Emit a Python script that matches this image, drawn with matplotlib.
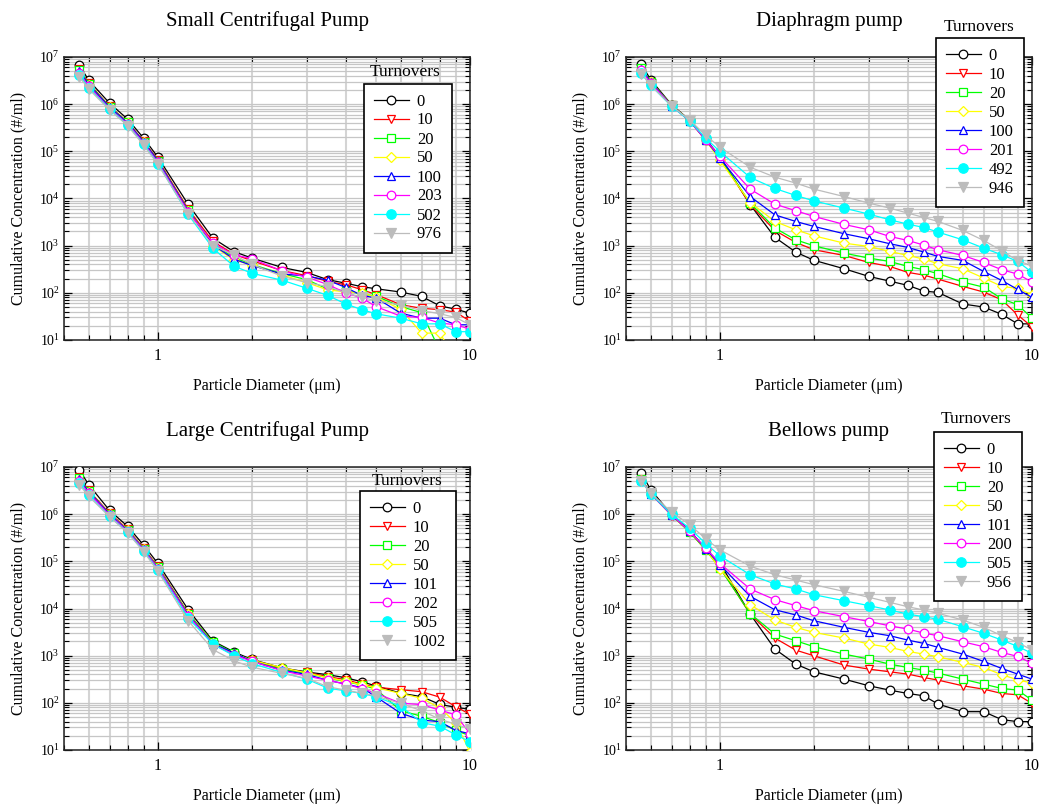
import matplotlib
matplotlib.use('Agg')
import matplotlib.pyplot as plt
from matplotlib.ticker import LogLocator, FixedLocator, FixedFormatter, NullFormatter, LogFormatterMathtext

plt.rcParams['font.family'] = ['Liberation Serif', 'DejaVu Serif']
plt.rcParams['mathtext.fontset'] = 'custom'
plt.rcParams['mathtext.rm'] = 'Liberation Serif'
plt.rcParams['mathtext.it'] = 'Liberation Serif:italic'
plt.rcParams['mathtext.bf'] = 'Liberation Serif:bold'

# ---------------- data ----------------
diameters = [0.56, 0.6, 0.7, 0.8, 0.9, 1.0, 1.25, 1.5, 1.75, 2, 2.5, 3, 3.5, 4, 4.5, 5, 6, 7, 8, 9, 10]

small_labels = ['0', '10', '20', '50', '100', '203', '502', '976']
small_0 = [6.8e6, 3.2e6, 1.05e6, 4.8e5, 1.9e5, 7.5e4, 7.5e3, 1440, 750, 545, 345, 270, 190, 160, 135, 122, 104, 84, 53, 45, 37]
small_10 = [5.5e6, 2.8e6, 9.0e5, 4.2e5, 1.65e5, 6.6e4, 6.0e3, 1230, 660, 480, 295, 232, 175, 148, 117, 92, 56, 47, 44, 39, 25]
small_20 = [5.2e6, 2.7e6, 8.8e5, 4.1e5, 1.6e5, 6.3e4, 5.6e3, 1100, 560, 400, 255, 190, 120, 110, 95, 85, 51, 38, 6, 4, 3]
small_50 = [4.5e6, 2.5e6, 8.5e5, 3.9e5, 1.55e5, 6.0e4, 5.5e3, 1000, 500, 390, 240, 165, 115, 105, 100, 80, 45, 14, 14, 4, 3]
small_100 = [5.0e6, 2.6e6, 8.6e5, 4.0e5, 1.6e5, 6.2e4, 5.5e3, 1050, 520, 380, 250, 228, 185, 130, 88, 78, 37, 29, 29, 21, 21]
small_203 = [4.6e6, 2.4e6, 8.0e5, 3.8e5, 1.5e5, 5.8e4, 5.2e3, 1150, 640, 530, 290, 215, 150, 100, 78, 51, 32, 30, 23, 21, 17]
small_502 = [4.2e6, 2.2e6, 7.8e5, 3.6e5, 1.4e5, 5.5e4, 4.6e3, 880, 370, 260, 185, 125, 88, 58, 44, 36, 29, 22, 22, 15, 15]
small_976 = [3.8e6, 2.1e6, 7.5e5, 3.5e5, 1.35e5, 5.3e4, 4.8e3, 1000, 640, 400, 225, 165, 135, 100, 80, 68, 55, 42, 36, 30, 21]

dia_labels = ['0', '10', '20', '50', '100', '201', '492', '946']
dia_0 = [7.0e6, 3.3e6, 9.7e5, 4.6e5, 1.8e5, 7.8e4, 7.4e3, 1.5e3, 730, 490, 324, 223, 177, 144, 109, 102, 58, 50, 35, 22, 22]
dia_10 = [5.5e6, 3.0e6, 9.5e5, 4.5e5, 1.7e5, 7.3e4, 7.4e3, 2.1e3, 1.17e3, 820, 620, 440, 363, 271, 238, 195, 137, 104, 71, 34, 19]
dia_20 = [5.8e6, 3.0e6, 9.5e5, 4.5e5, 1.75e5, 7.2e4, 8.0e3, 2.36e3, 1.33e3, 995, 695, 545, 463, 363, 309, 254, 169, 132, 75, 56, 29]
dia_50 = [5.3e6, 2.9e6, 9.3e5, 4.4e5, 1.75e5, 6.4e4, 8.2e3, 3.26e3, 2.17e3, 1.62e3, 1.13e3, 963, 755, 621, 519, 413, 324, 206, 137, 124, 91]
dia_100 = [5.6e6, 2.9e6, 9.3e5, 4.4e5, 1.75e5, 7.2e4, 1.1e4, 4.5e3, 3.26e3, 2.56e3, 1.79e3, 1.4e3, 1.1e3, 918, 731, 591, 487, 284, 183, 118, 80]
dia_201 = [5.2e6, 2.8e6, 9.2e5, 4.4e5, 1.75e5, 7.8e4, 1.58e4, 7.6e3, 5.5e3, 4.17e3, 2.82e3, 2.17e3, 1.57e3, 1.29e3, 1.03e3, 818, 621, 441, 309, 250, 169]
dia_492 = [4.5e6, 2.5e6, 9.0e5, 4.4e5, 1.9e5, 9.9e4, 2.79e4, 1.63e4, 1.16e4, 8.9e3, 6.25e3, 4.67e3, 3.54e3, 2.86e3, 2.43e3, 1.94e3, 1.33e3, 887, 641, 463, 271]
dia_946 = [4.4e6, 2.5e6, 9.2e5, 4.6e5, 2.2e5, 1.22e5, 4.6e4, 2.84e4, 2.12e4, 1.58e4, 1.1e4, 7.98e3, 6.25e3, 4.9e3, 3.96e3, 3.26e3, 2.1e3, 1.29e3, 780, 479, 375]

large_labels = ['0', '10', '20', '50', '101', '202', '505', '1002']
large_0 = [8.7e6, 4.2e6, 1.2e6, 5.5e5, 2.2e5, 9.0e4, 9.5e3, 2.05e3, 1.2e3, 830, 550, 450, 395, 340, 280, 228, 160, 135, 93, 80, 73]
large_10 = [6.0e6, 3.2e6, 1.05e6, 4.8e5, 1.9e5, 7.8e4, 8.0e3, 1.9e3, 1.1e3, 800, 530, 440, 360, 310, 250, 215, 190, 172, 132, 83, 57]
large_20 = [5.8e6, 3.1e6, 1.0e6, 4.6e5, 1.85e5, 7.5e4, 7.8e3, 1.95e3, 1.15e3, 780, 510, 420, 340, 280, 240, 195, 68, 52, 38, 26, 20]
large_50 = [5.2e6, 3.0e6, 1.0e6, 4.6e5, 1.8e5, 7.3e4, 7.5e3, 1.85e3, 1.1e3, 800, 560, 430, 340, 290, 240, 210, 158, 125, 78, 38, 9]
large_101 = [5.5e6, 3.0e6, 1.0e6, 4.5e5, 1.8e5, 7.2e4, 7.4e3, 1.8e3, 1.15e3, 760, 490, 400, 300, 250, 210, 134, 60, 43, 40, 26, 22]
large_202 = [5.0e6, 2.8e6, 9.5e5, 4.3e5, 1.75e5, 7.0e4, 7.0e3, 1.75e3, 1.05e3, 760, 480, 370, 300, 250, 200, 160, 98, 92, 70, 56, 22]
large_505 = [4.5e6, 2.5e6, 9.0e5, 4.1e5, 1.65e5, 6.5e4, 6.3e3, 1.75e3, 1.0e3, 680, 440, 317, 205, 180, 158, 134, 85, 38, 32, 21, 15]
large_1002 = [4.2e6, 2.4e6, 8.8e5, 4.0e5, 1.6e5, 6.2e4, 5.5e3, 1.35e3, 780, 570, 420, 330, 220, 185, 160, 140, 97, 68, 45, 35, 28]

bel_labels = ['0', '10', '20', '50', '101', '200', '505', '956']
bel_0 = [7.4e6, 3.3e6, 9.8e5, 4.5e5, 1.83e5, 9.2e4, 7.6e3, 1.38e3, 662, 455, 318, 230, 186, 158, 141, 94, 65, 65, 44, 40, 40]
bel_10 = [5.6e6, 2.7e6, 9.5e5, 4.2e5, 1.75e5, 7.5e4, 7.6e3, 2.36e3, 1.31e3, 995, 631, 519, 455, 406, 345, 303, 230, 195, 158, 148, 97]
bel_20 = [5.6e6, 2.8e6, 9.5e5, 4.2e5, 1.75e5, 7.2e4, 7.8e3, 2.87e3, 2.07e3, 1.55e3, 1.08e3, 846, 662, 562, 494, 427, 318, 249, 202, 186, 114]
bel_50 = [5.4e6, 2.7e6, 9.5e5, 4.3e5, 1.8e5, 6.9e4, 1.2e4, 5.7e3, 3.98e3, 3.12e3, 2.36e3, 1.76e3, 1.5e3, 1.23e3, 1.08e3, 948, 719, 562, 394, 308, 262]
bel_101 = [5.4e6, 2.7e6, 9.6e5, 4.4e5, 1.85e5, 8.5e4, 1.81e4, 9.4e3, 7.3e3, 5.5e3, 3.98e3, 3.12e3, 2.65e3, 2.14e3, 1.82e3, 1.5e3, 1.08e3, 755, 536, 406, 318]
bel_200 = [5.3e6, 2.7e6, 9.6e5, 4.4e5, 1.9e5, 9.0e4, 2.59e4, 1.54e4, 1.15e4, 9.0e3, 6.7e3, 5.3e3, 4.3e3, 3.66e3, 3.01e3, 2.65e3, 1.97e3, 1.55e3, 1.17e3, 964, 684]
bel_505 = [5.0e6, 2.7e6, 1.0e6, 5.0e5, 2.4e5, 1.3e5, 5.2e4, 3.3e4, 2.59e4, 1.96e4, 1.46e4, 1.15e4, 9.3e3, 7.6e3, 6.7e3, 5.9e3, 4.1e3, 2.97e3, 2.14e3, 1.57e3, 1.12e3]
bel_956 = [5.0e6, 2.8e6, 1.1e6, 6.0e5, 3.0e5, 1.75e5, 7.9e4, 5.2e4, 4.0e4, 3.2e4, 2.3e4, 1.73e4, 1.35e4, 1.09e4, 9.3e3, 7.9e3, 5.7e3, 3.98e3, 2.65e3, 1.91e3, 1.31e3]

x_tick_values = [1, 10]
x_tick_labels = ['1', '10']

# ---------------- style ----------------
colors = ['#000000', '#ff0000', '#00ff00', '#ffff00', '#0000ff', '#ff00ff', '#00ffff', '#bcbcbc']
markers = ['o', 'v', 's', 'D', '^', 'o', 'o', 'v']
filled = [False, False, False, False, False, False, True, True]
msizes = [6.2, 6.2, 5.7, 5.2, 6.2, 6.2, 6.8, 6.8]

W, H = 1039, 807
fig = plt.figure(figsize=(W / 100, H / 100), dpi=100)


def rect(l, t, r, b):
    return [l / W, 1 - b / H, (r - l) / W, (b - t) / H]


panels = [
    ('Small Centrifugal Pump', (64, 57, 470, 340), small_labels,
     [small_0, small_10, small_20, small_50, small_100, small_203, small_502, small_976],
     (363.5, 83.5), (405, 72)),
    ('Diaphragm pump', (626, 57, 1032, 340), dia_labels,
     [dia_0, dia_10, dia_20, dia_50, dia_100, dia_201, dia_492, dia_946],
     (935.5, 38), (979, 27)),
    ('Large Centrifugal Pump', (64, 467, 470, 750), large_labels,
     [large_0, large_10, large_20, large_50, large_101, large_202, large_505, large_1002],
     (359.5, 491), (407, 481)),
    ('Bellows pump', (626, 467, 1032, 750), bel_labels,
     [bel_0, bel_10, bel_20, bel_50, bel_101, bel_200, bel_505, bel_956],
     (933.5, 432), (976, 419)),
]

for title, box, labels, series, leg_xy, ttl_xy in panels:
    ax = fig.add_axes(rect(*box))
    ax.set_xscale('log')
    ax.set_yscale('log')
    handles = []
    for i, ys in enumerate(series):
        (ln,) = ax.plot(diameters, ys, color=colors[i], lw=0.9, marker=markers[i],
                        ms=msizes[i], mec=colors[i], mew=0.9,
                        mfc=colors[i] if filled[i] else 'white', zorder=3 + i * 0.01)
        handles.append(ln)
    ax.set_xlim(0.5, 10)
    ax.set_ylim(10, 1e7)
    ax.set_axisbelow(True)
    ax.xaxis.set_major_locator(FixedLocator(x_tick_values))
    ax.xaxis.set_major_formatter(FixedFormatter(x_tick_labels))
    ax.xaxis.set_minor_locator(LogLocator(base=10, subs=range(2, 10)))
    ax.xaxis.set_minor_formatter(NullFormatter())
    ax.yaxis.set_major_locator(LogLocator(base=10, numticks=10))
    ax.yaxis.set_major_formatter(LogFormatterMathtext())
    ax.yaxis.set_minor_locator(LogLocator(base=10, subs=range(2, 10), numticks=20))
    ax.yaxis.set_minor_formatter(NullFormatter())
    ax.tick_params(which='both', direction='in', top=True, right=True, colors='black')
    ax.tick_params(which='major', length=6, width=0.9)
    ax.tick_params(which='minor', length=3.5, width=0.8)
    ax.tick_params(axis='y', which='major', labelsize=10, pad=3)
    ax.tick_params(axis='x', which='major', labelsize=11.5, pad=6)
    ax.grid(True, which='both', axis='y', color='#c6c6c6', lw=0.9)
    ax.grid(True, which='both', axis='x', color='#d4d4d4', lw=1.5)
    for sp in ax.spines.values():
        sp.set_linewidth(1.1)
        sp.set_color('#222222')
    ax.set_title(title, fontsize=15, pad=22)
    ax.set_ylabel('Cumulative Concentration (#/ml)', fontsize=11.5)
    ax.yaxis.set_label_coords(-0.092, 0.5)
    ax.set_xlabel('Particle Diameter (\u03bcm)', fontsize=11.5)
    ax.xaxis.set_label_coords(0.5, -0.135)
    leg = ax.legend(handles, labels, loc='upper left',
                    bbox_to_anchor=(leg_xy[0] / W, 1 - leg_xy[1] / H),
                    bbox_transform=fig.transFigure, borderaxespad=0,
                    frameon=True, fancybox=False, framealpha=1, edgecolor='black',
                    fontsize=12, handlelength=2.1, handletextpad=0.5,
                    labelspacing=0.18, borderpad=0.6)
    leg.get_frame().set_linewidth(1.2)
    leg.set_zorder(10)
    fig.text(ttl_xy[0] / W, 1 - ttl_xy[1] / H, 'Turnovers', ha='center', va='center',
             fontsize=12.5)

fig.savefig('out.png', dpi=100)
